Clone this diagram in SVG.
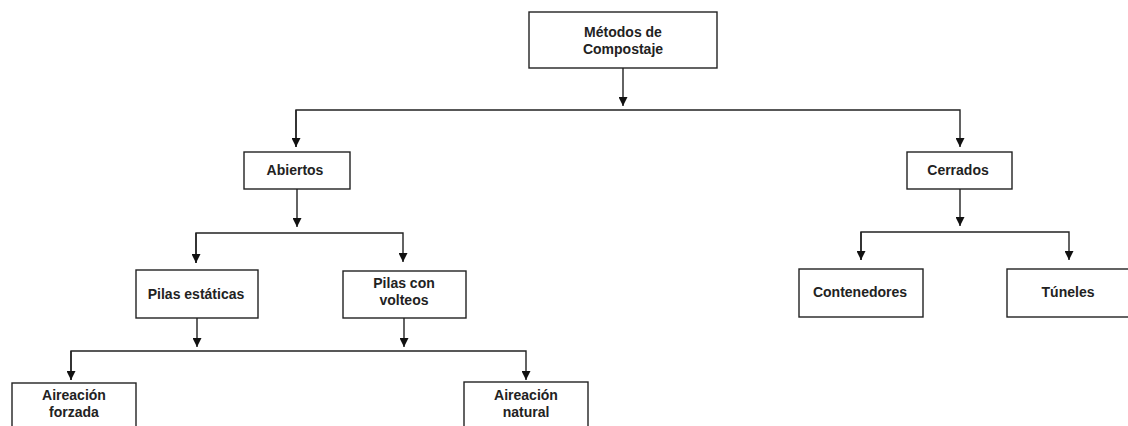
<svg xmlns="http://www.w3.org/2000/svg" width="1128" height="426" viewBox="0 0 1128 426">
<style>
.box{fill:#fff;stroke:#222;stroke-width:1.4}
.lbl{font-family:"Liberation Sans",Arial,sans-serif;font-weight:bold;font-size:14px;fill:#222;text-anchor:middle}
.con{fill:none;stroke:#222;stroke-width:1.4}
</style>
<defs>
<marker id="ah" viewBox="0 0 10 10" refX="10" refY="5" markerWidth="9" markerHeight="9" markerUnits="userSpaceOnUse" orient="auto">
<path d="M0,0 L10,5 L0,10 Z" fill="#111"/>
</marker>
</defs>
<rect width="1128" height="426" fill="#fff"/>
<g id="connectors">
<path class="con" d="M623,68 V106" marker-end="url(#ah)"/>
<path class="con" d="M296,147 V110 H960 V147" marker-end="url(#ah)"/>
<path class="con" d="M296,110 V147" marker-end="url(#ah)"/>
<path class="con" d="M297,189 V227" marker-end="url(#ah)"/>
<path class="con" d="M196,263 V233 H403 V262" marker-end="url(#ah)"/>
<path class="con" d="M196,233 V263" marker-end="url(#ah)"/>
<path class="con" d="M197,318 V347" marker-end="url(#ah)"/>
<path class="con" d="M404,318 V347" marker-end="url(#ah)"/>
<path class="con" d="M71,380 V351 H526 V380" marker-end="url(#ah)"/>
<path class="con" d="M71,351 V380" marker-end="url(#ah)"/>
<path class="con" d="M960,189 V226" marker-end="url(#ah)"/>
<path class="con" d="M861,260 V232 H1069 V260" marker-end="url(#ah)"/>
<path class="con" d="M861,232 V260" marker-end="url(#ah)"/>
</g>
<g id="n-metodos">
<rect class="box" x="529" y="12" width="188" height="56"/>
<text class="lbl" x="623" y="37">Métodos de</text>
<text class="lbl" x="623" y="54">Compostaje</text>
</g>
<g id="n-abiertos">
<rect class="box" x="244" y="152" width="106" height="37"/>
<text class="lbl" x="295" y="175">Abiertos</text>
</g>
<g id="n-cerrados">
<rect class="box" x="907" y="152" width="105" height="37"/>
<text class="lbl" x="958" y="175">Cerrados</text>
</g>
<g id="n-pilas-estaticas">
<rect class="box" x="136" y="270" width="122" height="48"/>
<text class="lbl" x="196" y="299">Pilas estáticas</text>
</g>
<g id="n-pilas-volteos">
<rect class="box" x="343" y="271" width="123" height="47"/>
<text class="lbl" x="404" y="288">Pilas con</text>
<text class="lbl" x="404" y="305">volteos</text>
</g>
<g id="n-contenedores">
<rect class="box" x="799" y="269" width="124" height="48"/>
<text class="lbl" x="860" y="297">Contenedores</text>
</g>
<g id="n-tuneles">
<rect class="box" x="1007" y="269" width="124" height="48"/>
<text class="lbl" x="1068" y="297">Túneles</text>
</g>
<g id="n-aireacion-forzada">
<rect class="box" x="12" y="383" width="124" height="50"/>
<text class="lbl" x="74" y="400">Aireación</text>
<text class="lbl" x="74" y="417">forzada</text>
</g>
<g id="n-aireacion-natural">
<rect class="box" x="464" y="382" width="124" height="50"/>
<text class="lbl" x="526" y="400">Aireación</text>
<text class="lbl" x="526" y="417">natural</text>
</g>
</svg>
